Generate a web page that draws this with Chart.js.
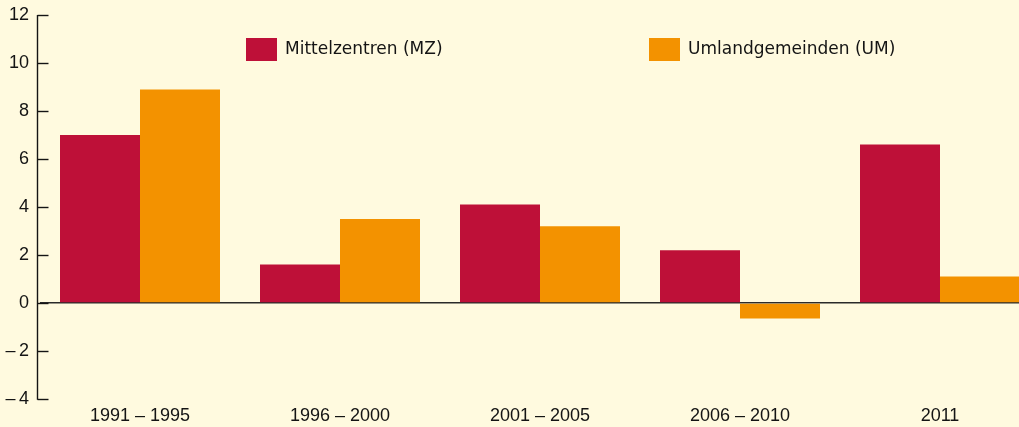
<!DOCTYPE html>
<html>
<head>
<meta charset="utf-8">
<script src="https://cdn.jsdelivr.net/npm/chart.js@4"></script>
<style>
  html, body { margin: 0; padding: 0; background: #fffadf; overflow: hidden; }
  canvas { display: block; }
</style>
</head>
<body>
<canvas id="grafico" width="1040" height="427"></canvas>
<script>
// ========================
// DATEN
// ========================

const zeitraeume = ["1991 – 1995", "1996 – 2000", "2001 – 2005", "2006 – 2010", "2011"];

const mittelzentren = [7.0, 1.6, 4.1, 2.2, 6.6];

const umlandgemeinden = [8.9, 3.5, 3.2, -0.65, 1.1];

const yTicks = [-4, -2, 0, 2, 4, 6, 8, 10, 12];

const ROT = "#be1038";
const ORANGE = "#f39200";
const TEXT = "#141414";
const HINTERGRUND = "#fffadf";

// ========================
// PLUGINS
// ========================

const hintergrund = {
  id: "hintergrund",
  beforeDraw(chart) {
    const ctx = chart.ctx;
    ctx.save();
    ctx.fillStyle = HINTERGRUND;
    ctx.fillRect(0, 0, chart.width, chart.height);
    ctx.restore();
  },
};

// y-Achse mit kleinen Strichen nach innen
const achse = {
  id: "achse",
  afterDraw(chart) {
    const ctx = chart.ctx;
    const y = chart.scales.y;
    const { top, bottom, left } = chart.chartArea;
    const ax = left - 2.5;
    ctx.save();
    ctx.strokeStyle = TEXT;
    ctx.lineWidth = 1.4;
    ctx.beginPath();
    ctx.moveTo(ax, top);
    ctx.lineTo(ax, bottom + 0.7);
    ctx.stroke();
    yTicks.forEach((v) => {
      const py = Math.round(y.getPixelForValue(v)) + 0.5;
      ctx.beginPath();
      ctx.moveTo(ax, py);
      ctx.lineTo(ax + 11, py);
      ctx.stroke();
    });
    ctx.restore();
  },
};

// Legende im Diagramm
const legende = {
  id: "legende",
  afterDraw(chart) {
    const ctx = chart.ctx;
    const eintraege = [
      { x: 246, farbe: ROT, text: chart.data.datasets[0].label },
      { x: 649, farbe: ORANGE, text: chart.data.datasets[1].label },
    ];
    ctx.save();
    ctx.font = "17px 'DejaVu Sans'";
    ctx.textBaseline = "middle";
    eintraege.forEach((e) => {
      ctx.fillStyle = e.farbe;
      ctx.fillRect(e.x, 38, 31, 23);
      ctx.fillStyle = TEXT;
      ctx.fillText(e.text, e.x + 39, 49.5);
    });
    ctx.restore();
  },
};

// ========================
// DIAGRAMM
// ========================

new Chart(document.getElementById("grafico"), {
  type: "bar",
  data: {
    labels: zeitraeume,
    datasets: [
      {
        label: "Mittelzentren (MZ)",
        data: mittelzentren,
        backgroundColor: ROT,
      },
      {
        label: "Umlandgemeinden (UM)",
        data: umlandgemeinden,
        backgroundColor: ORANGE,
      },
    ],
  },
  options: {
    responsive: false,
    animation: false,
    devicePixelRatio: 1,
    layout: { padding: { top: 15, right: 0, bottom: 0, left: 0 } },
    datasets: {
      bar: { categoryPercentage: 0.8, barPercentage: 1.0 },
    },
    plugins: {
      legend: { display: false },
      tooltip: { enabled: false },
    },
    scales: {
      x: {
        grid: { display: false, drawTicks: false },
        border: { display: false },
        ticks: {
          color: TEXT,
          font: { family: "Liberation Sans", size: 18 },
          padding: 6,
          maxRotation: 0,
        },
        afterFit(scale) {
          scale.height = 28;
          scale.paddingLeft = 0;
          scale.paddingRight = 0;
        },
      },
      y: {
        min: -4,
        max: 12,
        z: 1,
        afterBuildTicks(scale) {
          scale.ticks = yTicks.map((v) => ({ value: v }));
        },
        afterFit(scale) {
          scale.width = 40;
          scale.paddingTop = 0;
          scale.paddingBottom = 0;
        },
        grid: {
          drawTicks: false,
          lineWidth: 1.6,
          color: (c) => (c.tick && c.tick.value === 0 ? "#2a2a2a" : "rgba(0,0,0,0)"),
        },
        border: { display: false },
        ticks: {
          color: TEXT,
          font: { family: "Liberation Sans", size: 18 },
          padding: 11,
          callback: (v) => (v < 0 ? "–\u2009" + Math.abs(v) : String(v)),
        },
      },
    },
  },
  plugins: [hintergrund, achse, legende],
});
</script>
</body>
</html>
